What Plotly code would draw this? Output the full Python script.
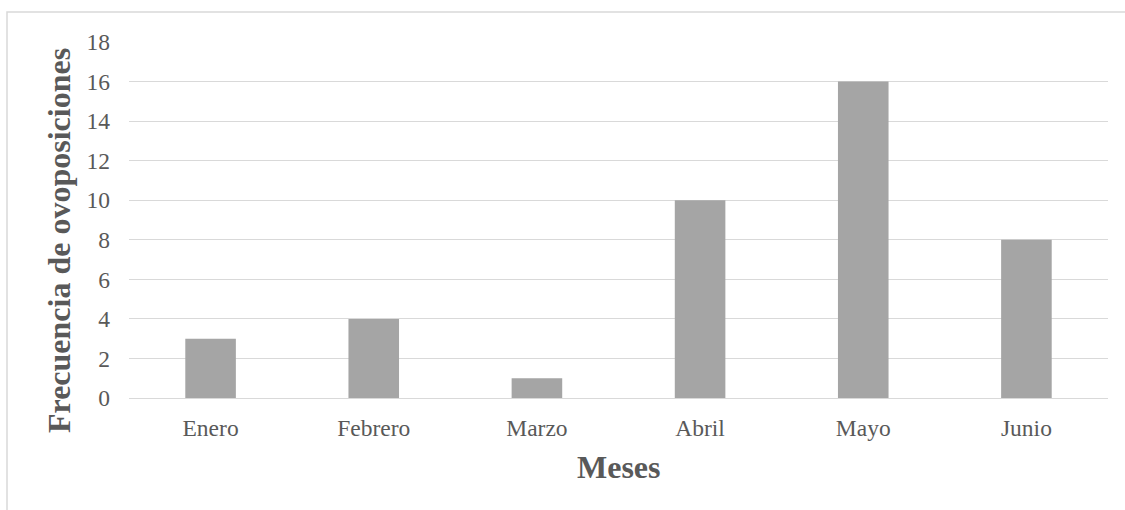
import plotly.graph_objects as go

months = ["Enero", "Febrero", "Marzo", "Abril", "Mayo", "Junio"]
counts = [3, 4, 1, 10, 16, 8]
y_ticks = [0, 2, 4, 6, 8, 10, 12, 14, 16, 18]

W, H = 1125, 510
L, R, T, B = 129, 17, 42, 112

fig = go.Figure(go.Bar(
    x=months, y=counts,
    marker=dict(color="#a5a5a5", line=dict(width=0)),
    width=0.31,
))

fig.update_layout(
    width=W, height=H,
    margin=dict(l=L, r=R, t=T, b=B),
    plot_bgcolor="white", paper_bgcolor="white",
    showlegend=False,
    font=dict(family="Liberation Serif, Times New Roman, serif", color="#595959", size=23.5),
    xaxis=dict(
        showgrid=False, showline=True, linecolor="#d9d9d9", linewidth=1,
        ticks="", tickfont=dict(size=23.5, color="#595959"), ticklabelstandoff=9,
    ),
    yaxis=dict(
        range=[0, 18], tickvals=y_ticks, showgrid=True, gridcolor="#d9d9d9", gridwidth=1,
        zeroline=False, showline=False, ticks="", ticklabelstandoff=18,
        tickfont=dict(size=23.5, color="#595959"),
    ),
    shapes=[dict(type="rect", xref="paper", yref="paper",
                 x0=(7 - L) / (W - L - R), x1=(1130 - L) / (W - L - R),
                 y0=-(520 - (H - B)) / (H - T - B), y1=(H - B - 12) / (H - T - B),
                 line=dict(color="#d9d9d9", width=1.5), fillcolor="rgba(0,0,0,0)", layer="below")],
    annotations=[
        dict(text="<b>Meses</b>", xref="paper", yref="paper",
             x=0.5, y=-(467 - (H - B)) / (H - T - B), showarrow=False,
             font=dict(size=32, color="#595959"), xanchor="center", yanchor="middle"),
        dict(text="<b>Frecuencia de ovoposiciones</b>", xref="paper", yref="paper",
             x=-(L - 59) / (W - L - R), y=((H - B) - 241) / (H - T - B), showarrow=False,
             textangle=-90, font=dict(size=32, color="#595959"),
             xanchor="center", yanchor="middle"),
    ],
)

fig.write_html("out.html")
